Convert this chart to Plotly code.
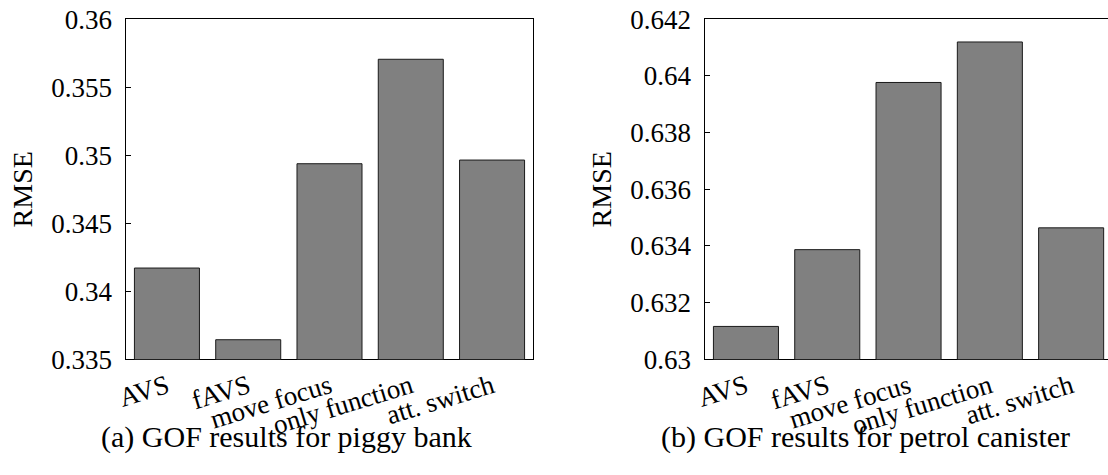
import plotly.graph_objects as go

categories = ["AVS", "fAVS", "move focus", "only function", "att. switch"]
piggy_rmse = [0.34171, 0.33644, 0.34938, 0.35706, 0.34965]
petrol_rmse = [0.63116, 0.63387, 0.63977, 0.64120, 0.63464]

piggy_ticks = [0.335, 0.34, 0.345, 0.35, 0.355, 0.36]
piggy_ticktext = ["0.335", "0.34", "0.345", "0.35", "0.355", "0.36"]
petrol_ticks = [0.630, 0.632, 0.634, 0.636, 0.638, 0.640, 0.642]
petrol_ticktext = ["0.63", "0.632", "0.634", "0.636", "0.638", "0.64", "0.642"]

captions = ["(a) GOF results for piggy bank", "(b) GOF results for petrol canister"]

W, H = 1108, 475
FONT = "Liberation Serif"
FS_TICK = 27
FS_XTICK = 27
FS_TITLE = 28
FS_CAP = 30

fig = go.Figure()
fig.add_trace(go.Bar(x=categories, y=piggy_rmse, width=0.8,
                     marker=dict(color="#808080", line=dict(color="#1a1a1a", width=1)),
                     xaxis="x", yaxis="y", showlegend=False))
fig.add_trace(go.Bar(x=categories, y=petrol_rmse, width=0.8,
                     marker=dict(color="#808080", line=dict(color="#1a1a1a", width=1)),
                     xaxis="x2", yaxis="y2", showlegend=False))

y_bot = (H - 359.3) / H
y_top = (H - 19.3) / H
x1 = [126.3 / W, 532.7 / W]
x2 = [705.3 / W, 1.0]
cat_px = 81.3
x2_max = -0.5 + (W - 705.3) / cat_px

common_x = dict(showline=True, linecolor="black", linewidth=1, mirror=True,
                ticks="inside", ticklen=5, tickcolor="black", tickangle=-17,
                tickfont=dict(family=FONT, size=FS_XTICK, color="black"),
                showgrid=False, layer="below traces", automargin=False)
common_y = dict(showline=True, linecolor="black", linewidth=1, mirror=True,
                ticks="inside", ticklen=5, tickcolor="black",
                tickfont=dict(family=FONT, size=FS_TICK, color="black"),
                showgrid=False, zeroline=False, ticklabelstandoff=8, automargin=False,
                title=dict(text="RMSE", font=dict(family=FONT, size=FS_TITLE, color="black"), standoff=10))

fig.update_layout(
    width=W, height=H, margin=dict(l=0, r=0, t=0, b=0, autoexpand=False),
    paper_bgcolor="white", plot_bgcolor="white",
    xaxis=dict(domain=x1, range=[-0.5, 4.5], anchor="y", **common_x),
    yaxis=dict(domain=[y_bot, y_top], range=[0.335, 0.36], anchor="x",
               tickvals=piggy_ticks, ticktext=piggy_ticktext, **common_y),
    xaxis2=dict(domain=x2, range=[-0.5, x2_max], anchor="y2", **common_x),
    yaxis2=dict(domain=[y_bot, y_top], range=[0.630, 0.642], anchor="x2",
                tickvals=petrol_ticks, ticktext=petrol_ticktext, **common_y),
    bargap=0.2,
)

fig.add_annotation(text=captions[0], x=286 / W, y=(H - 437) / H, xref="paper", yref="paper",
                   showarrow=False, xanchor="center", yanchor="middle",
                   font=dict(family=FONT, size=FS_CAP, color="black"))
fig.add_annotation(text=captions[1], x=865 / W, y=(H - 437) / H, xref="paper", yref="paper",
                   showarrow=False, xanchor="center", yanchor="middle",
                   font=dict(family=FONT, size=FS_CAP, color="black"))

fig.write_html("out.html")
